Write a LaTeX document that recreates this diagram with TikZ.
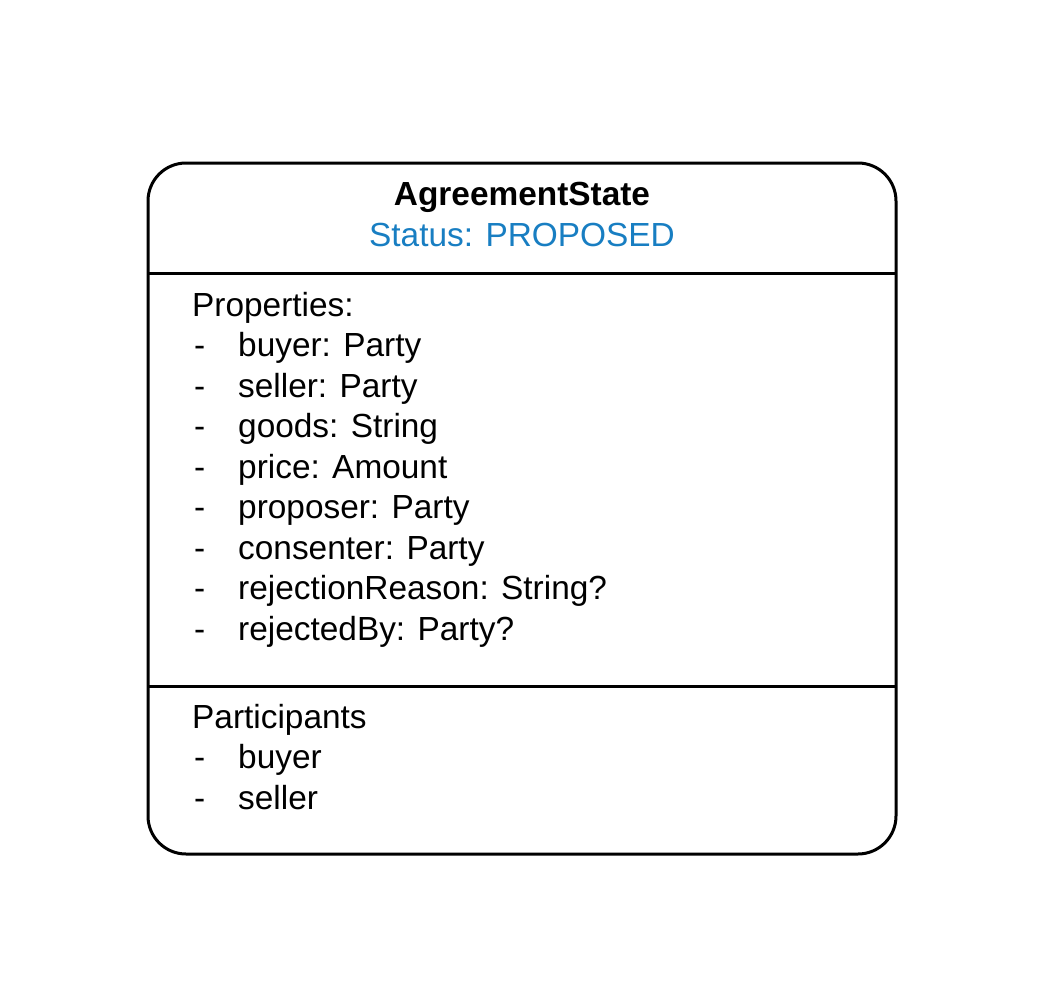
\documentclass[tikz,border=0pt]{standalone}
\usepackage{fontspec}
\setmainfont{Liberation Sans}
\definecolor{statusblue}{RGB}{24,126,194}
\begin{document}
\begin{tikzpicture}[x=1pt,y=-1pt,
  boxline/.style={line width=3pt,black},
  txt/.style={inner sep=0pt,anchor=base west,font=\fontsize{33.4}{40}\selectfont},
  ttl/.style={inner sep=0pt,anchor=base,font=\fontsize{33.4}{40}\selectfont}]
\useasboundingbox (0,0) rectangle (1050,1001);
\draw[boxline,rounded corners=38pt] (148,163) rectangle (896,854);
\coordinate (d1l) at (148,273); \coordinate (d1r) at (896,273);
\coordinate (d2l) at (148,686); \coordinate (d2r) at (896,686);
\draw[boxline] (d1l) -- (d1r);
\draw[boxline] (d2l) -- (d2r);
\node[ttl,font=\fontsize{33.4}{40}\selectfont\bfseries] (title) at (522,205) {AgreementState};
\node[ttl,text=statusblue] (status) at (522,246) {Status: PROPOSED};
\node[txt] (props) at (192,316) {Properties:};
\foreach \i/\t in {1/buyer: Party,2/seller: Party,3/goods: String,4/price: Amount,5/proposer: Party,6/consenter: Party,7/rejectionReason: String?,8/rejectedBy: Party?}{
  \node[txt] (pd\i) at (194,{316+40.5*\i}) {-};
  \node[txt] (pt\i) at (238,{316+40.5*\i}) {\t};
}
\node[txt] (parts) at (192,728) {Participants};
\foreach \i/\t in {1/buyer,2/seller}{
  \node[txt] (qd\i) at (194,{728+40.5*\i}) {-};
  \node[txt] (qt\i) at (238,{728+40.5*\i}) {\t};
}
\end{tikzpicture}
\end{document}
